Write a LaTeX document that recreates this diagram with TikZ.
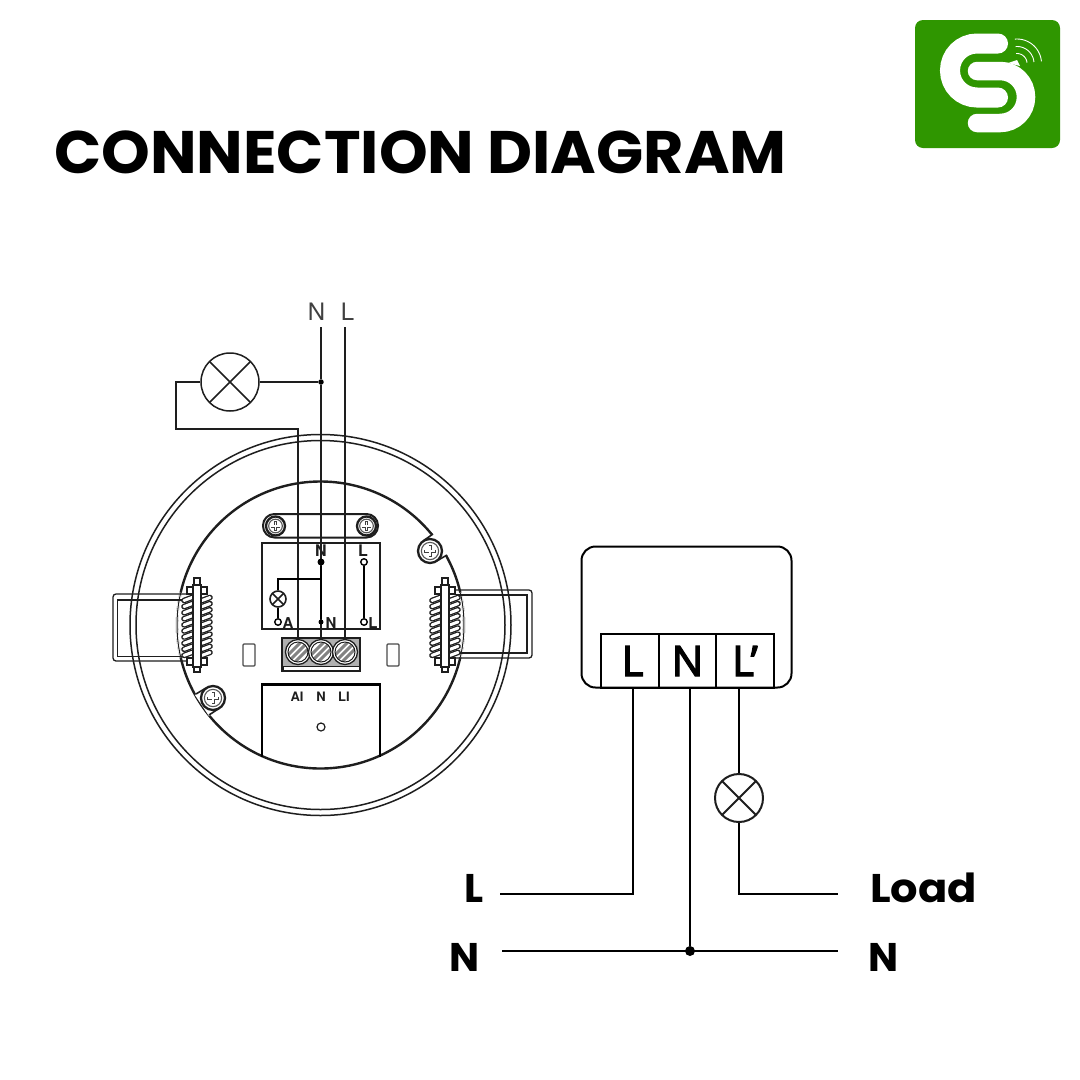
\documentclass[tikz,border=0pt]{standalone}
\usepackage{fontspec}
\setmainfont{Poppins}[BoldFont={Poppins Bold}]
\newfontfamily\termfont[FakeBold=3]{Open Sans}
\newfontfamily\drawfont{TeX Gyre Heros}
\usetikzlibrary{calc}
\definecolor{logogreen}{HTML}{2F9600}
\definecolor{ink}{HTML}{1E1E1E}
\tikzset{
  thin wire/.style={draw=ink,line width=1.5pt},
  heavy wire/.style={draw=black,line width=1.8pt},
  right wire/.style={draw=black,line width=2pt},
  ring/.style={draw=ink,line width=1.5pt},
  lamp/.style={circle,draw=ink,fill=white,inner sep=0pt,line width=#1,
    path picture={\draw[ink,line width=#1]
      (path picture bounding box.north west) -- (path picture bounding box.south east)
      (path picture bounding box.north east) -- (path picture bounding box.south west);}},
  term/.style={draw=black,line width=1.6pt,minimum width=57.5pt,minimum height=54pt,inner sep=0pt,
    font=\termfont\fontsize{42}{42}\selectfont},
  biglabel/.style={font=\bfseries\fontsize{40}{40}\selectfont,inner sep=0pt,text=black},
  smalllabel/.style={font=\drawfont\bfseries\fontsize{15}{15}\selectfont,inner sep=0pt,text=ink},
  tinylabel/.style={font=\drawfont\bfseries\fontsize{13}{13}\selectfont,inner sep=0pt,text=ink},
  toplabel/.style={font=\drawfont\fontsize{24}{24}\selectfont,inner sep=0pt,text=ink!85},
  dotjoin/.style={circle,fill=black,inner sep=0pt,minimum size=#1},
  opendot/.style={circle,draw=black,line width=1.4pt,fill=white,inner sep=0pt,minimum size=6.5pt},
}
% x y radius
\newcommand{\myscrew}[3]{%
  \draw[ink,line width=2.3pt,fill=white] (#1,#2) circle (#3 pt);
  \draw[ink!75,line width=1.1pt] (#1,#2) circle (#3*0.72 pt);
  \draw[ink!85,line width=3pt] (#1-#3*0.5,#2) -- (#1+#3*0.5,#2) (#1,#2-#3*0.5) -- (#1,#2+#3*0.5);
  \draw[white,line width=1.2pt] (#1-#3*0.45,#2) -- (#1+#3*0.45,#2) (#1,#2-#3*0.45) -- (#1,#2+#3*0.45);
}
% terminal-block screw
\newcommand{\blockscrew}[2]{%
  \draw[ink,line width=1.3pt,fill=white] (#1,#2) circle (12.5pt);
  \begin{scope}
    \clip (#1,#2) circle (10pt);
    \fill[white] (#1,#2) circle (10pt);
    \foreach \d in {-7,0,7}
      \draw[ink!55,line width=3pt] (#1-12+\d,#2+12) -- (#1+12+\d,#2-12);
  \end{scope}
  \draw[ink,line width=1pt] (#1,#2) circle (10pt);
}
% spring on post centred at x
\newcommand{\myspring}[1]{%
  \foreach \i in {0,...,9} {
    \pgfmathsetmacro{\yy}{599+\i*6.1}
    \draw[ink,line width=5.6pt,line cap=round] (#1-13,\yy+1.5) -- (#1-5,\yy-1.5);
    \draw[ink,line width=5.6pt,line cap=round] (#1+5,\yy+1.5) -- (#1+13,\yy-1.5);
  }
  \foreach \i in {0,...,9} {
    \pgfmathsetmacro{\yy}{599+\i*6.1}
    \draw[white,line width=3pt,line cap=round] (#1-13,\yy+1.5) -- (#1-5,\yy-1.5);
    \draw[white,line width=3pt,line cap=round] (#1+5,\yy+1.5) -- (#1+13,\yy-1.5);
  }
  \draw[ink,line width=1.3pt,fill=white] (#1-3,578) rectangle (#1+3,672);
  \draw[ink,line width=1.3pt,fill=white] (#1-10,587) rectangle (#1+10,594);
  \draw[ink,line width=1.3pt,fill=white] (#1-10,658) rectangle (#1+10,665);
  \draw[ink,line width=1.3pt,fill=white] (#1-4,585) rectangle (#1+4,667);
}
\begin{document}
\begin{tikzpicture}[x=1pt,y=-1pt]
\useasboundingbox (0,0) rectangle (1080,1080);
\fill[white] (0,0) rectangle (1080,1080);

% title
\node[anchor=west,inner sep=0pt,font=\bfseries\fontsize{60}{60}\selectfont] (title) at (54,152) {\scalebox{1.033}[1]{CONNECTION DIAGRAM}};

% logo
\fill[logogreen,rounded corners=8pt] (915,20) rectangle (1060,148);
\draw[white,line width=20pt,line cap=round] (998,43.5) -- (977,43.5)
   .. controls (962,43.5) and (950,55.5) .. (950,70.5)
   .. controls (950,85.5) and (962,97.5) .. (977,97.5) -- (998,97.5);
\draw[white,line width=18.5pt,line cap=round] (977,71) -- (1000,71)
   .. controls (1014.5,71) and (1026,82.5) .. (1026,97)
   .. controls (1026,111.5) and (1014.5,123) .. (1000,123) -- (977,123);
\fill[white] (1008,63) -- (1017,60) -- (1020,66) -- cycle;
\foreach \r in {10,17,24.5}
  \draw[white,line width=0.9pt] plot[domain=5:95,samples=20,smooth] ({1017+\r*cos(\x)},{63.5-\r*sin(\x)});

% ---- round sensor ----
\coordinate (hub) at (320.5,625);
\draw[ring] (hub) circle (190.5pt);
\draw[ring] (hub) circle (184.5pt);
\draw[ink,line width=2.4pt] (hub) circle (143.5pt);
\draw[white,line width=2.8pt] plot[domain=167:193,samples=20,smooth] ({320.5+143.5*cos(\x)},{625-143.5*sin(\x)});
\draw[ink,line width=1pt] plot[domain=167:193,samples=20,smooth] ({320.5+143.5*cos(\x)},{625-143.5*sin(\x)});
\draw[white,line width=2.8pt] plot[domain=-13:13,samples=20,smooth] ({320.5+143.5*cos(\x)},{625-143.5*sin(\x)});
\draw[ink,line width=1pt] plot[domain=-13:13,samples=20,smooth] ({320.5+143.5*cos(\x)},{625-143.5*sin(\x)});

% lugs
\fill[white] (437,561) -- (448,554) -- (434,533) -- (423,541) -- cycle;
\draw[ink,line width=1.6pt] (423,541) -- (433,534);
\draw[ink,line width=1.6pt] (436.7,561) -- (447,555);
\myscrew{430}{551}{12}
\fill[white] (206,688) -- (195,695) -- (209,716) -- (220,708) -- cycle;
\draw[ink,line width=1.6pt] (206,688) -- (196,694);
\draw[ink,line width=1.6pt] (219.7,708) -- (209,715);
\myscrew{213}{698}{12}

% clips
\draw[ink,line width=1.3pt,rounded corners=3pt] (186,594) -- (113,594) -- (113,661) -- (186,661);
\draw[ink,line width=1.3pt] (186,600) -- (117.5,600) -- (117.5,656.5) -- (186,656.5);
\draw[ink,line width=1.3pt,rounded corners=3pt] (456,590) -- (532,590) -- (532,658) -- (456,658);
\draw[ink,line width=1.3pt] (456,595) -- (527,595) -- (527,653) -- (456,653);
\myspring{197}
\myspring{445}

% plate
\draw[ink,line width=2pt,fill=white,rounded corners=11.5pt] (263,514) rectangle (378,537.5);
\myscrew{275.5}{526}{9.5}
\myscrew{366.5}{526}{9.5}

% inner box
\draw[thin wire] (262,543) rectangle (380,629);
% terminal block
\draw[ink,line width=1.5pt,fill=ink!35] (282,638) rectangle (360,671);
\draw[ink,line width=1pt,fill=white] (283,666) rectangle (359,670.5);
\blockscrew{298}{652}
\blockscrew{321}{652}
\blockscrew{345}{652}
% side slots
\draw[ink!80,line width=1.3pt,rounded corners=1pt] (243,644) rectangle (255,666);
\draw[ink!80,line width=1.3pt,rounded corners=1pt] (387,644) rectangle (399,666);
% lower box
\draw[black,line width=2.4pt] (262,757) -- (262,684.5) -- (380,684.5) -- (380,757);
\node[tinylabel] (labA) at (297,697) {AI};
\node[tinylabel] (labN) at (321,697) {N};
\node[tinylabel] (labL) at (344,697) {LI};
\node[circle,draw=ink,line width=1.2pt,inner sep=0pt,minimum size=8pt] (hole) at (321,727) {};

% top wiring
\node[toplabel] (topN) at (316.5,312) {N};
\node[toplabel] (topL) at (347.5,312) {L};
\node[lamp=1.5pt,minimum size=58pt] (lampA) at (230,382) {};
\coordinate (nIn) at (321,327);
\coordinate (lIn) at (345,327);
\node[dotjoin=5.5pt] (nJoin) at (321,382) {};
\coordinate (bendA) at (176,382);
\coordinate (bendB) at (176,429);
\coordinate (bendC) at (298,429);
\coordinate (aEnd) at (298,640);
\coordinate (nEnd) at (321,640);
\coordinate (lEnd) at (345,640);
\draw[thin wire] (lampA.east) -- (nJoin);
\draw[thin wire] (lampA.west) -- (bendA) -- (bendB) -- (bendC) -- (aEnd);
\draw[thin wire] (nIn) -- (nJoin) -- (nEnd);
\draw[thin wire] (lIn) -- (lEnd);

% inner wiring
\node[smalllabel,font=\drawfont\bfseries\fontsize{16}{16}\selectfont] (inN) at (321,551) {N};
\node[smalllabel,font=\drawfont\bfseries\fontsize{16}{16}\selectfont] (inL) at (363,551) {L};
\node[dotjoin=7pt] (nTop) at (321,562) {};
\node[opendot] (lTop) at (364,562) {};
\node[dotjoin=5pt] (nBot) at (321,622) {};
\node[opendot] (lBot) at (364,622) {};
\node[opendot] (aBot) at (278,622) {};
\node[smalllabel] (txA) at (288,623) {A};
\node[smalllabel] (txN) at (331,623) {N};
\node[smalllabel] (txL) at (373,623) {L};
\node[lamp=1.6pt,minimum size=16pt] (lampC) at (278,599) {};
\coordinate (nTap) at (321,579);
\coordinate (aTap) at (278,579);
\draw[heavy wire] (nTop) -- (nBot);
\draw[heavy wire] (lTop) -- (lBot);
\draw[heavy wire] (nTap) -- (aTap) -- (lampC.north);
\draw[heavy wire] (lampC.south) -- (aBot);

% ---- right-hand module ----
\node[draw=black,line width=2pt,rounded corners=14pt,minimum width=210pt,minimum height=141pt,inner sep=0pt] (module) at (686.5,617) {};
\node[term] (tL) at (630,661) {\raisebox{-2.5pt}{\hspace{5pt}L}};
\node[term] (tN) at (687.5,661) {\raisebox{-2.5pt}{N}};
\node[term] (tP) at (745,661) {\raisebox{-2.5pt}{L’}};
\node[lamp=2pt,minimum size=48pt] (lampB) at (739,798) {};
\node[biglabel] (outL) at (474,888) {L};
\node[biglabel] (outN) at (465,957) {N};
\node[biglabel] (outLoad) at (923.5,888) {\scalebox{1.08}[1]{Load}};
\node[biglabel] (outNr) at (884,957) {N};
\coordinate (lFree) at (500,894);
\coordinate (lBend) at (633,894);
\coordinate (nFree) at (502,951);
\coordinate (nFreeR) at (838,951);
\coordinate (pBend) at (739,894);
\coordinate (pFree) at (838,894);
\node[dotjoin=10pt] (nDot) at (690,951) {};
\draw[right wire] ([xshift=3pt]tL.south) -- (lBend) -- (lFree);
\draw[right wire] ([xshift=2.5pt]tN.south) -- (nDot);
\draw[right wire] (nFree) -- (nFreeR);
\draw[right wire] ([xshift=-6pt]tP.south) -- (lampB.north);
\draw[right wire] (lampB.south) -- (pBend) -- (pFree);
\end{tikzpicture}
\end{document}
